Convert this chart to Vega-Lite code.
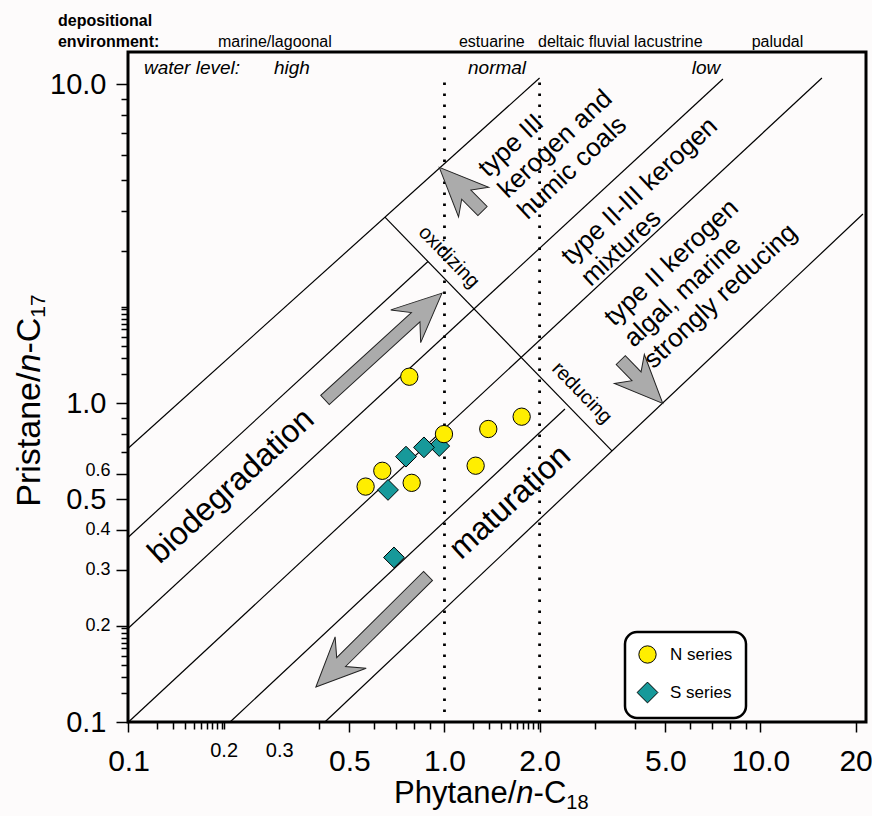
{
  "$schema": "https://vega.github.io/schema/vega-lite/v6.json",
  "width": 738,
  "height": 670,
  "autosize": {"type": "none"},
  "padding": {"left": 128, "top": 52, "right": 6, "bottom": 94},
  "background": "#fdfbfb",
  "config": {
    "view": {"stroke": "black", "strokeWidth": 3},
    "text": {"font": "Liberation Sans", "color": "black"},
    "legend": {"strokeWidth": 2.5}
  },
  "encoding": {
    "x": {
      "field": "x", "type": "quantitative",
      "scale": {"type": "log", "domain": [0.09964, 21.58], "nice": false},
      "axis": {
        "title": null, "grid": false, "domain": false,
        "values": [0.1,0.123,0.138,0.151,0.161,0.17,0.177,0.184,0.19,0.197,0.2,0.3,0.4,0.5,0.6,0.7,0.8,0.9,1,1.23,1.38,1.51,1.61,1.7,1.77,1.84,1.9,1.97,2,3,4,5,6,7,8,9,10,20],
        "labelExpr": "indexof([0.1,0.2,0.3,0.5,1,2,5,10], datum.value) >= 0 ? format(datum.value, '.1f') : (datum.value == 20 ? '20' : '')",
        "labelFontSize": {"condition": {"test": "datum.value == 0.2 || datum.value == 0.3", "value": 20}, "value": 30},
        "labelPadding": {"condition": {"test": "datum.value == 0.2 || datum.value == 0.3", "value": 11}, "value": 14},
        "tickSize": {"condition": {"test": "indexof([0.1,0.5,1,2,5,10,20], datum.value) >= 0", "value": 10}, "value": 7},
        "tickColor": "black", "tickWidth": 1.5, "labelColor": "black", "labelFont": "Liberation Sans",
        "labelOverlap": false, "labelFlush": false, "labelBound": false
      }
    },
    "y": {
      "field": "y", "type": "quantitative",
      "scale": {"type": "log", "domain": [0.1, 12.6], "nice": false},
      "axis": {
        "title": null, "grid": false, "domain": false,
        "values": [0.1,0.123,0.138,0.151,0.161,0.17,0.177,0.184,0.19,0.197,0.2,0.3,0.4,0.5,0.6,0.7,0.8,0.9,1,1.23,1.38,1.51,1.61,1.7,1.77,1.84,1.9,1.97,2,3,4,5,6,7,8,9,10],
        "labelExpr": "indexof([0.1,0.2,0.3,0.4,0.5,0.6,1,10], datum.value) >= 0 ? format(datum.value, '.1f') : ''",
        "labelFontSize": {"condition": {"test": "indexof([0.2,0.3,0.4,0.6], datum.value) >= 0", "value": 18}, "value": 29},
        "labelPadding": {"condition": {"test": "indexof([0.2,0.3,0.4,0.6], datum.value) >= 0", "value": 6}, "value": 10},
        "labelOffset": {"condition": {"test": "datum.value == 0.6", "value": -3}, "value": 0},
        "tickSize": {"condition": {"test": "indexof([0.1,0.2,0.3,0.4,0.5,0.6,1,10], datum.value) >= 0", "value": 12}, "value": 7},
        "tickColor": "black", "tickWidth": 1.5, "labelColor": "black", "labelFont": "Liberation Sans",
        "labelOverlap": false, "labelBound": false
      }
    }
  },
  "layer": [
    {
      "data": {"values": [
        {"seg": "A", "x": 0.1, "y": 0.7229}, {"seg": "A", "x": 2.0, "y": 10.44},
        {"seg": "B", "x": 0.1, "y": 0.3802}, {"seg": "B", "x": 0.8867, "y": 2.777},
        {"seg": "C", "x": 0.1, "y": 0.1971}, {"seg": "C", "x": 7.607, "y": 10.37},
        {"seg": "D", "x": 0.1, "y": 0.1}, {"seg": "D", "x": 15.65, "y": 10.44},
        {"seg": "E", "x": 0.2096, "y": 0.1}, {"seg": "E", "x": 2.406, "y": 0.958},
        {"seg": "F", "x": 0.4184, "y": 0.1}, {"seg": "F", "x": 21.1, "y": 3.913},
        {"seg": "P", "x": 0.648, "y": 3.824}, {"seg": "P", "x": 3.389, "y": 0.7075}
      ]},
      "mark": {"type": "line", "color": "black", "strokeWidth": 1.2},
      "encoding": {"detail": {"field": "seg", "type": "nominal"}}
    },
    {
      "data": {"values": [
        {"seg": "Pr/Ph 1", "x": 1.0, "y": 0.1075}, {"seg": "Pr/Ph 1", "x": 1.0, "y": 10.44},
        {"seg": "Pr/Ph 2", "x": 2.0, "y": 0.1075}, {"seg": "Pr/Ph 2", "x": 2.0, "y": 10.44}
      ]},
      "mark": {"type": "line", "color": "black", "strokeWidth": 2.8, "strokeDash": [2.6, 8.4], "strokeCap": "butt"},
      "encoding": {"detail": {"field": "seg", "type": "nominal"}, "order": {"field": "y", "type": "quantitative"}}
    },
    {
      "data": {"values": [{"name": "biodegradation", "x": 0.6412, "y": 1.503}]},
      "mark": {"type": "point", "shape": "M1,0L0.38,-0.28L0.55,-0.08L-1,-0.08L-1,0.08L0.55,0.08L0.38,0.28Z", "size": 25100, "angle": 317.6, "filled": true, "color": "#ababab", "stroke": "#222222", "strokeWidth": 1, "opacity": 1}
    },
    {
      "data": {"values": [{"name": "maturation", "x": 0.5896, "y": 0.1922}]},
      "mark": {"type": "point", "shape": "M1,0L0.38,-0.28L0.55,-0.08L-1,-0.08L-1,0.08L0.55,0.08L0.38,0.28Z", "size": 24900, "angle": 135.3, "filled": true, "color": "#ababab", "stroke": "#222222", "strokeWidth": 1, "opacity": 1}
    },
    {
      "data": {"values": [{"name": "type III", "x": 1.127, "y": 4.68}]},
      "mark": {"type": "point", "shape": "M1,0L-0.59,-0.69L-0.25,-0.21L-1,-0.21L-1,0.21L-0.25,0.21L-0.59,0.69Z", "size": 3780, "angle": 225.3, "filled": true, "color": "#ababab", "stroke": "#222222", "strokeWidth": 1, "opacity": 1}
    },
    {
      "data": {"values": [{"name": "type II", "x": 4.211, "y": 1.166}]},
      "mark": {"type": "point", "shape": "M1,0L-0.59,-0.69L-0.25,-0.21L-1,-0.21L-1,0.21L-0.25,0.21L-0.59,0.69Z", "size": 3640, "angle": 45.9, "filled": true, "color": "#ababab", "stroke": "#222222", "strokeWidth": 1, "opacity": 1}
    },
    {
      "data": {"values": [
        {"label": "biodegradation", "x": 0.2111, "y": 0.5494},
        {"label": "maturation", "x": 1.612, "y": 0.4894}
      ]},
      "mark": {"type": "text", "fontSize": 32, "angle": 317.5, "align": "center", "baseline": "middle"},
      "encoding": {"text": {"field": "label", "type": "nominal"}}
    },
    {
      "data": {"values": [
        {"label": "type III\nkerogen and\nhumic coals", "x": 1.373, "y": 5.074},
        {"label": "type II-III kerogen\nmixtures", "x": 2.513, "y": 2.688},
        {"label": "type II kerogen\nalgal, marine\nstrongly reducing", "x": 3.439, "y": 1.73}
      ]},
      "mark": {"type": "text", "fontSize": 26, "lineHeight": 29, "lineBreak": "\n", "angle": 317, "align": "left", "baseline": "alphabetic"},
      "encoding": {"text": {"field": "label", "type": "nominal"}}
    },
    {
      "data": {"values": [
        {"label": "oxidizing", "x": 1.033, "y": 2.869},
        {"label": "reducing", "x": 2.723, "y": 1.075}
      ]},
      "mark": {"type": "text", "fontSize": 20, "angle": 46, "align": "center", "baseline": "middle"},
      "encoding": {"text": {"field": "label", "type": "nominal"}}
    },
    {
      "data": {"values": [
        {"label": "depositional", "x": 0.05981, "y": 15.2},
        {"label": "environment:", "x": 0.05981, "y": 13.11}
      ]},
      "mark": {"type": "text", "fontSize": 16, "fontWeight": "bold", "align": "left", "baseline": "alphabetic"},
      "encoding": {"text": {"field": "label", "type": "nominal"}}
    },
    {
      "data": {"values": [
        {"label": "marine/lagoonal", "x": 0.1919, "y": 13.11},
        {"label": "estuarine", "x": 1.111, "y": 13.11},
        {"label": "deltaic fluvial lacustrine", "x": 1.977, "y": 13.11},
        {"label": "paludal", "x": 9.38, "y": 13.11}
      ]},
      "mark": {"type": "text", "fontSize": 16, "align": "left", "baseline": "alphabetic"},
      "encoding": {"text": {"field": "label", "type": "nominal"}}
    },
    {
      "data": {"values": [
        {"label": "water level:", "x": 0.1119, "y": 10.75},
        {"label": "high", "x": 0.2886, "y": 10.75},
        {"label": "normal", "x": 1.187, "y": 10.75},
        {"label": "low", "x": 6.058, "y": 10.75}
      ]},
      "mark": {"type": "text", "fontSize": 19, "fontStyle": "italic", "align": "left", "baseline": "alphabetic"},
      "encoding": {"text": {"field": "label", "type": "nominal"}}
    },
    {
      "data": {"values": [
        {"label": "Phytane/", "x": 0.6921, "y": 0.0558},
        {"label": "-C", "x": 1.914, "y": 0.0558}
      ]},
      "mark": {"type": "text", "fontSize": 31, "align": "left", "baseline": "alphabetic"},
      "encoding": {"text": {"field": "label", "type": "nominal"}}
    },
    {
      "data": {"values": [{"label": "n", "x": 1.688, "y": 0.0558}]},
      "mark": {"type": "text", "fontSize": 31, "fontStyle": "italic", "align": "left", "baseline": "alphabetic"},
      "encoding": {"text": {"field": "label", "type": "nominal"}}
    },
    {
      "data": {"values": [{"label": "18", "x": 2.429, "y": 0.0533}]},
      "mark": {"type": "text", "fontSize": 20, "align": "left", "baseline": "alphabetic"},
      "encoding": {"text": {"field": "label", "type": "nominal"}}
    },
    {
      "data": {"values": [
        {"label": "Pristane/", "x": 0.05231, "y": 0.4731},
        {"label": "-C", "x": 0.05231, "y": 1.429}
      ]},
      "mark": {"type": "text", "fontSize": 34, "angle": 270, "align": "left", "baseline": "alphabetic"},
      "encoding": {"text": {"field": "label", "type": "nominal"}}
    },
    {
      "data": {"values": [{"label": "n", "x": 0.05231, "y": 1.246}]},
      "mark": {"type": "text", "fontSize": 34, "fontStyle": "italic", "angle": 270, "align": "left", "baseline": "alphabetic"},
      "encoding": {"text": {"field": "label", "type": "nominal"}}
    },
    {
      "data": {"values": [{"label": "17", "x": 0.05442, "y": 1.851}]},
      "mark": {"type": "text", "fontSize": 21, "angle": 270, "align": "left", "baseline": "alphabetic"},
      "encoding": {"text": {"field": "label", "type": "nominal"}}
    },
    {
      "data": {"values": [
        {"series": "S series", "x": 0.9627, "y": 0.733},
        {"series": "N series", "x": 0.774, "y": 1.209},
        {"series": "N series", "x": 1.376, "y": 0.829},
        {"series": "N series", "x": 1.755, "y": 0.906},
        {"series": "N series", "x": 0.9963, "y": 0.799},
        {"series": "N series", "x": 1.255, "y": 0.636},
        {"series": "N series", "x": 0.6357, "y": 0.613},
        {"series": "N series", "x": 0.5629, "y": 0.547},
        {"series": "N series", "x": 0.7874, "y": 0.562},
        {"series": "S series", "x": 0.7555, "y": 0.679},
        {"series": "S series", "x": 0.8612, "y": 0.726},
        {"series": "S series", "x": 0.6627, "y": 0.534},
        {"series": "S series", "x": 0.6921, "y": 0.328}
      ]},
      "mark": {"type": "point", "filled": true, "size": 300, "stroke": "black", "strokeWidth": 1, "opacity": 1},
      "encoding": {
        "color": {
          "field": "series", "type": "nominal",
          "scale": {"domain": ["N series", "S series"], "range": ["#FFEE00", "#17999A"]},
          "legend": {
            "title": null, "orient": "none", "legendX": 497, "legendY": 580,
            "strokeColor": "black", "cornerRadius": 12, "fillColor": "white",
            "padding": 13, "rowPadding": 14, "labelFont": "Liberation Sans", "labelFontSize": 17,
            "labelColor": "black", "labelOffset": 13, "symbolSize": 300,
            "symbolStrokeColor": "black", "symbolStrokeWidth": 1, "symbolOpacity": 1
          }
        },
        "shape": {
          "field": "series", "type": "nominal",
          "scale": {"domain": ["N series", "S series"], "range": ["circle", "M0,-1.2L1.2,0L0,1.2L-1.2,0Z"]}
        }
      }
    }
  ]
}
